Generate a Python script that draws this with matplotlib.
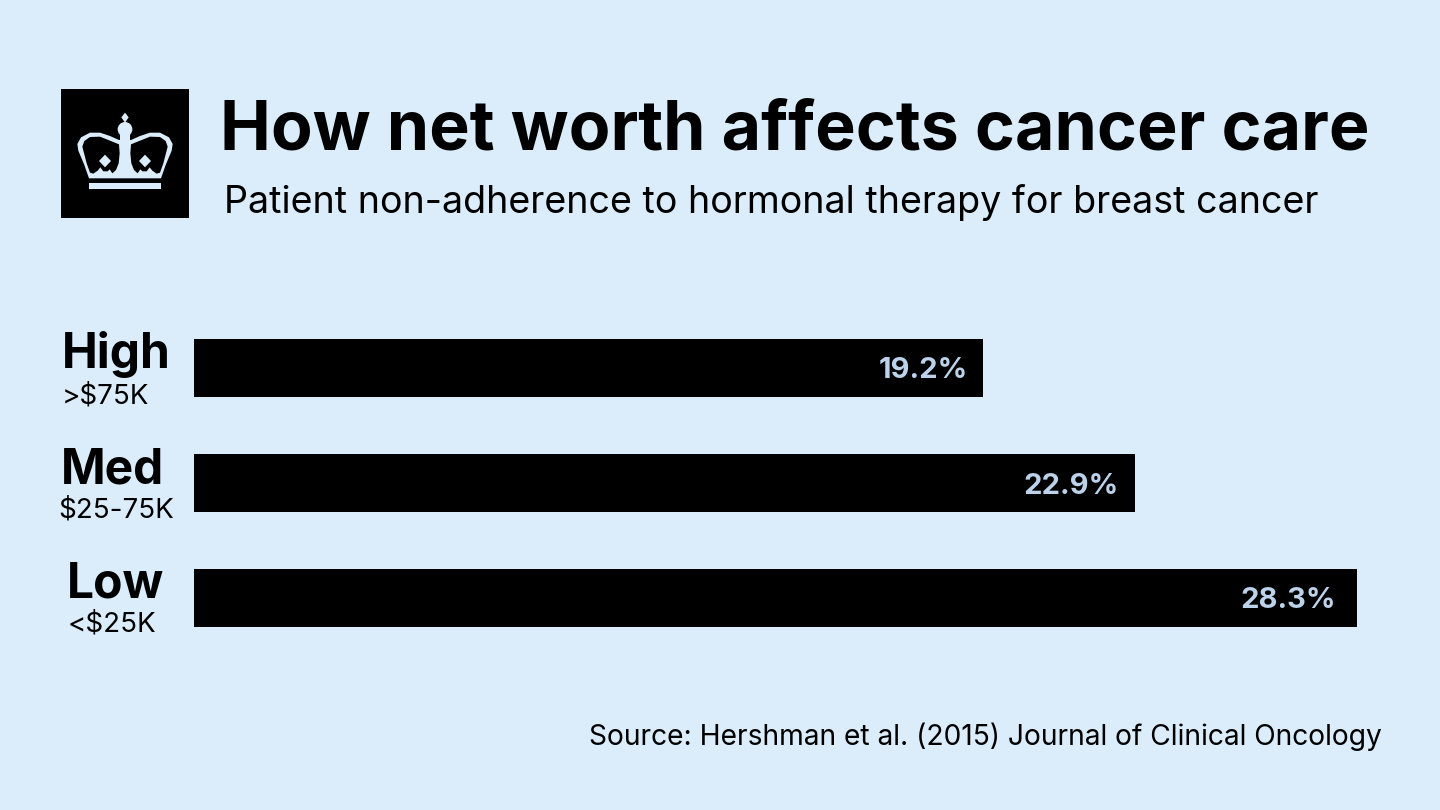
import matplotlib
matplotlib.use("Agg")
import matplotlib.pyplot as plt
from matplotlib.patches import Polygon, Circle, Rectangle

categorias = ["High", "Med", "Low"]
faixas = [">$75K", "$25-75K", "<$25K"]
valores = [19.2, 22.9, 28.3]
rotulos = ["19.2%", "22.9%", "28.3%"]

FUNDO = "#DBEDFB"
VALOR = "#BCD2EA"
FONTE = "Inter"
W, H = 1440, 810

fig = plt.figure(figsize=(14.4, 8.1), dpi=100, facecolor=FUNDO)

# camada de texto e logo em pixels
bg = fig.add_axes([0, 0, 1, 1])
bg.set_xlim(0, W)
bg.set_ylim(H, 0)
bg.axis("off")

# barras
x0, x1 = 194, 1357
y0, y1 = 339, 627
ax = fig.add_axes([x0 / W, 1 - y1 / H, (x1 - x0) / W, (y1 - y0) / H])
ax.patch.set_alpha(0)
ax.barh(range(3), valores, height=58 / 115, color="black")
ax.set_xlim(0, 28.3)
ax.set_ylim(2 + 29 / 115, -29 / 115)
ax.axis("off")

# a distancia ate o fim da barra nao e igual nas tres
recuos = [-11, -12, -15.5]
for i, v in enumerate(valores):
    ax.annotate(rotulos[i], (v, i), xytext=(recuos[i], 0), textcoords="offset points",
                ha="right", va="center_baseline", color=VALOR, fontsize=21,
                family=FONTE, fontweight="bold")

# rotulos das categorias
centros = [(116, 351, 394), (113, 466, 508), (116, 581, 623)]
for i, (xc, yc, ys) in enumerate(centros):
    bg.text(xc, yc + 17, categorias[i], ha="center", va="baseline", fontsize=34.5,
            family=FONTE, fontweight="bold", color="black")
    xf = [105, 116, 112][i]
    bg.text(xf, ys + 9, faixas[i], ha="center", va="baseline", fontsize=20,
            family=FONTE, color="black")

# titulo
bg.text(220, 150, "How net worth affects cancer care", ha="left", va="baseline",
        fontsize=49, family=FONTE, fontweight="bold", color="black")
bg.text(224, 213, "Patient non-adherence to hormonal therapy for breast cancer",
        ha="left", va="baseline", fontsize=27.1, family=FONTE, color="black")
bg.text(1382, 745, "Source: Hershman et al. (2015) Journal of Clinical Oncology",
        ha="right", va="baseline", fontsize=20.3, family=FONTE, color="black")

# logo
bg.add_patch(Rectangle((61, 89), 128, 129, color="black", lw=0))

def z(pts):
    return [(75 + a / 3, 110 + b / 3) for a, b in pts]

def espelho(pts):
    return [(300 - a, b) for a, b in pts]

lado = [(42, 205), (28, 165), (10, 122), (7, 102), (18, 82), (45, 68), (75, 68), (105, 78), (132, 90)]
bg.add_patch(Polygon(z(lado + espelho(lado)[::-1]), closed=True, color=FUNDO, lw=0))
bg.add_patch(Polygon(z([(42, 218), (258, 218), (258, 238), (42, 238)]), closed=True, color=FUNDO, lw=0))
bg.add_patch(Polygon(z([(136, 70), (164, 70), (164, 100), (136, 100)]), closed=True, color=FUNDO, lw=0))
bg.add_patch(Circle((75 + 150 / 3, 110 + 58 / 3), 22 / 3, color=FUNDO, lw=0))
bg.add_patch(Polygon(z([(150, 8), (161, 22), (150, 38), (139, 22)]), closed=True, color=FUNDO, lw=0))

buraco = [(22, 110), (28, 93), (45, 81), (75, 80), (105, 92), (132, 103), (134, 130), (131, 160),
          (123, 180), (112, 190), (104, 178), (98, 184), (85, 184), (76, 172), (68, 182), (55, 191),
          (45, 188), (35, 160)]
bg.add_patch(Polygon(z(buraco), closed=True, color="black", lw=0))
bg.add_patch(Polygon(z(espelho(buraco)), closed=True, color="black", lw=0))

diamante = [(90, 134), (108, 153), (90, 172), (72, 153)]
bg.add_patch(Polygon(z(diamante), closed=True, color=FUNDO, lw=0))
bg.add_patch(Polygon(z(espelho(diamante)), closed=True, color=FUNDO, lw=0))

fig.savefig("out.png", dpi=100, facecolor=FUNDO)
